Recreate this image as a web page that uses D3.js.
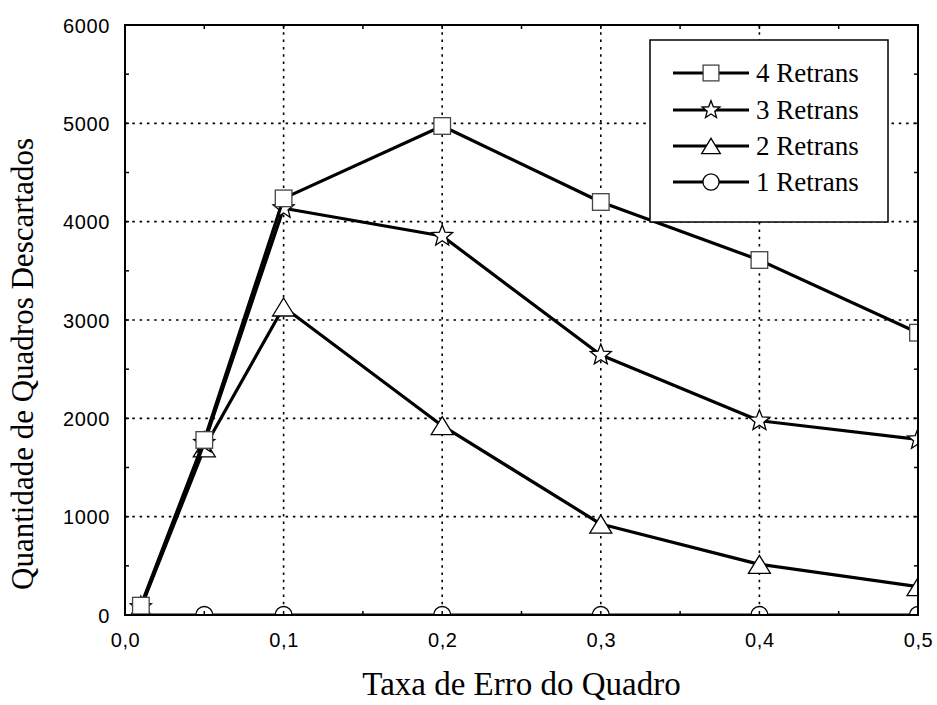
<!DOCTYPE html>
<html><head><meta charset="utf-8">
<script src="https://cdn.jsdelivr.net/npm/d3@7"></script>
<style>body{margin:0;background:#fff}</style>
</head><body><svg id="c" width="937" height="705"></svg>
<script>
// ---- data ----
const xValues = [0.01, 0.05, 0.1, 0.2, 0.3, 0.4, 0.5];
const seriesNames = ["4 Retrans", "3 Retrans", "2 Retrans", "1 Retrans"];
const retrans4 = [95, 1780, 4237, 4973, 4200, 3610, 2871];
const retrans3 = [80, 1750, 4136, 3854, 2644, 1976, 1786];
const retrans2 = [75, 1700, 3132, 1925, 925, 515, 288];
const retrans1 = [0, 0, 0, 0, 0, 0, 0];
const markerTypes = ["square", "star", "triangle", "circle"];
const xTickValues = [0, 0.1, 0.2, 0.3, 0.4, 0.5];
const xTickLabels = ["0,0", "0,1", "0,2", "0,3", "0,4", "0,5"];
const yTickValues = [0, 1000, 2000, 3000, 4000, 5000, 6000];
const yTickLabels = ["0", "1000", "2000", "3000", "4000", "5000", "6000"];
const xTitle = "Taxa de Erro do Quadro";
const yTitle = "Quantidade de Quadros Descartados";

const seriesValues = [retrans4, retrans3, retrans2, retrans1];

// ---- layout ----
const L = 125, R = 918, T = 25, B = 615;
const svg = d3.select("#c");
svg.append("rect").attr("width", 937).attr("height", 705).attr("fill", "#fff");

const x = d3.scaleLinear().domain([0, 0.5]).range([L, R]);
const y = d3.scaleLinear().domain([0, 6000]).range([B, T]);

const defs = svg.append("defs");
defs.append("clipPath").attr("id", "plotclip")
  .append("rect").attr("x", L).attr("y", T).attr("width", R - L).attr("height", B - T);

// grid
const grid = svg.append("g");
grid.selectAll("line.v").data(xTickValues.filter(v => v > 0 && v < 0.5)).enter().append("line")
  .attr("x1", d => x(d)).attr("x2", d => x(d)).attr("y1", T).attr("y2", B)
  .attr("stroke", "#000").attr("stroke-width", 1.6).attr("stroke-dasharray", "2.5,4.8");
grid.selectAll("line.h").data(yTickValues.filter(v => v > 0 && v < 6000)).enter().append("line")
  .attr("x1", L).attr("x2", R).attr("y1", d => y(d)).attr("y2", d => y(d))
  .attr("stroke", "#000").attr("stroke-width", 1.6).attr("stroke-dasharray", "2.5,4.8");

// markers
function starPath(ro, ri) {
  const pts = [];
  for (let i = 0; i < 10; i++) {
    const r = i % 2 === 0 ? ro : ri;
    const a = -Math.PI / 2 + i * Math.PI / 5;
    pts.push([r * Math.cos(a), r * Math.sin(a)]);
  }
  return "M" + pts.map(p => p[0].toFixed(2) + "," + p[1].toFixed(2)).join("L") + "Z";
}
function drawMarker(g, type, cx, cy, s) {
  s = s || 1;
  if (type === "square") {
    const h = 8.3 * s;
    g.append("rect").attr("x", cx - h).attr("y", cy - h).attr("width", 2 * h).attr("height", 2 * h)
      .attr("fill", "#fff").attr("stroke", "#444").attr("stroke-width", 1.3);
  } else if (type === "star") {
    g.append("path").attr("d", starPath(11 * s, 4.7 * s)).attr("transform", `translate(${cx},${cy})`)
      .attr("fill", "#fff").attr("stroke", "#000").attr("stroke-width", 1.3);
  } else if (type === "triangle") {
    const w = 11 * s, h = 9 * s;
    g.append("path").attr("d", `M${cx},${cy - h}L${cx + w},${cy + h}L${cx - w},${cy + h}Z`)
      .attr("fill", "#fff").attr("stroke", "#000").attr("stroke-width", 1.3);
  } else {
    g.append("circle").attr("cx", cx).attr("cy", cy).attr("r", 8.5 * s)
      .attr("fill", "#fff").attr("stroke", "#000").attr("stroke-width", 1.3);
  }
}

// series (drawn 1 -> 4 so 4 is on top)
const plot = svg.append("g").attr("clip-path", "url(#plotclip)");
const line = d3.line().x((d, i) => x(xValues[i])).y(d => y(d));
for (let k = seriesValues.length - 1; k >= 0; k--) {
  const g = plot.append("g");
  g.append("path").attr("d", line(seriesValues[k])).attr("fill", "none")
    .attr("stroke", "#000").attr("stroke-width", 3.2).attr("stroke-linejoin", "round");
  seriesValues[k].forEach((v, i) => drawMarker(g, markerTypes[k], x(xValues[i]), y(v)));
}

// frame
svg.append("rect").attr("x", L).attr("y", T).attr("width", R - L).attr("height", B - T)
  .attr("fill", "none").attr("stroke", "#000").attr("stroke-width", 2);

// minor ticks (inward)
const ticksG = svg.append("g").attr("stroke", "#000").attr("stroke-width", 1.5);
d3.range(0, 6001, 500).forEach(v => {
  ticksG.append("line").attr("x1", L).attr("x2", L + 4).attr("y1", y(v)).attr("y2", y(v));
  ticksG.append("line").attr("x1", R - 4).attr("x2", R).attr("y1", y(v)).attr("y2", y(v));
});
d3.range(0, 11).forEach(i => {
  const v = i * 0.05;
  ticksG.append("line").attr("x1", x(v)).attr("x2", x(v)).attr("y1", T).attr("y2", T + 4);
  ticksG.append("line").attr("x1", x(v)).attr("x2", x(v)).attr("y1", B - 4).attr("y2", B);
});

// axes labels via d3 axes
const tickFont = "'Liberation Sans', Arial, sans-serif";
const xAxis = d3.axisBottom(x).tickValues(xTickValues).tickFormat((d, i) => xTickLabels[i]).tickSize(0).tickPadding(0);
const gx = svg.append("g").attr("transform", `translate(0,${B})`).call(xAxis);
gx.attr("font-size", null).attr("font-family", null);
gx.select(".domain").remove();
gx.selectAll("text").style("font-family", tickFont).style("font-size", "20px")
  .style("letter-spacing", "0.6px").attr("fill", "#000").attr("dy", null).attr("y", 32);

const yAxis = d3.axisLeft(y).tickValues(yTickValues).tickFormat((d, i) => yTickLabels[i]).tickSize(0).tickPadding(15);
const gy = svg.append("g").attr("transform", `translate(${L},0)`).call(yAxis);
gy.attr("font-size", null).attr("font-family", null);
gy.select(".domain").remove();
gy.selectAll("text").style("font-family", tickFont).style("font-size", "20px")
  .style("letter-spacing", "0.6px").attr("fill", "#000").attr("dy", "0.36em");

// titles
svg.append("text").attr("x", (L + R) / 2).attr("y", 695).attr("text-anchor", "middle")
  .attr("font-family", "'Liberation Serif', 'Times New Roman', serif").attr("font-size", 33).attr("fill", "#000")
  .text(xTitle);
svg.append("text").attr("transform", "translate(33,364) rotate(-90)").attr("text-anchor", "middle")
  .attr("font-family", "'Liberation Serif', 'Times New Roman', serif").attr("font-size", 31).attr("fill", "#000")
  .text(yTitle);

// legend
const lg = svg.append("g");
lg.append("rect").attr("x", 650).attr("y", 40).attr("width", 238).attr("height", 182)
  .attr("fill", "#fff").attr("stroke", "#000").attr("stroke-width", 1.5);
const legendY = [73, 110, 146, 182];
seriesNames.forEach((name, k) => {
  const yy = legendY[k];
  lg.append("line").attr("x1", 673).attr("x2", 749).attr("y1", yy).attr("y2", yy)
    .attr("stroke", "#000").attr("stroke-width", 3.2);
  drawMarker(lg, markerTypes[k], 711, yy, k === 0 || k === 3 ? 0.95 : 0.85);
  lg.append("text").attr("x", 756).attr("y", yy + 9)
    .attr("font-family", "'Liberation Serif', 'Times New Roman', serif").attr("font-size", 27).attr("fill", "#000")
    .text(name);
});
</script>
</body></html>
